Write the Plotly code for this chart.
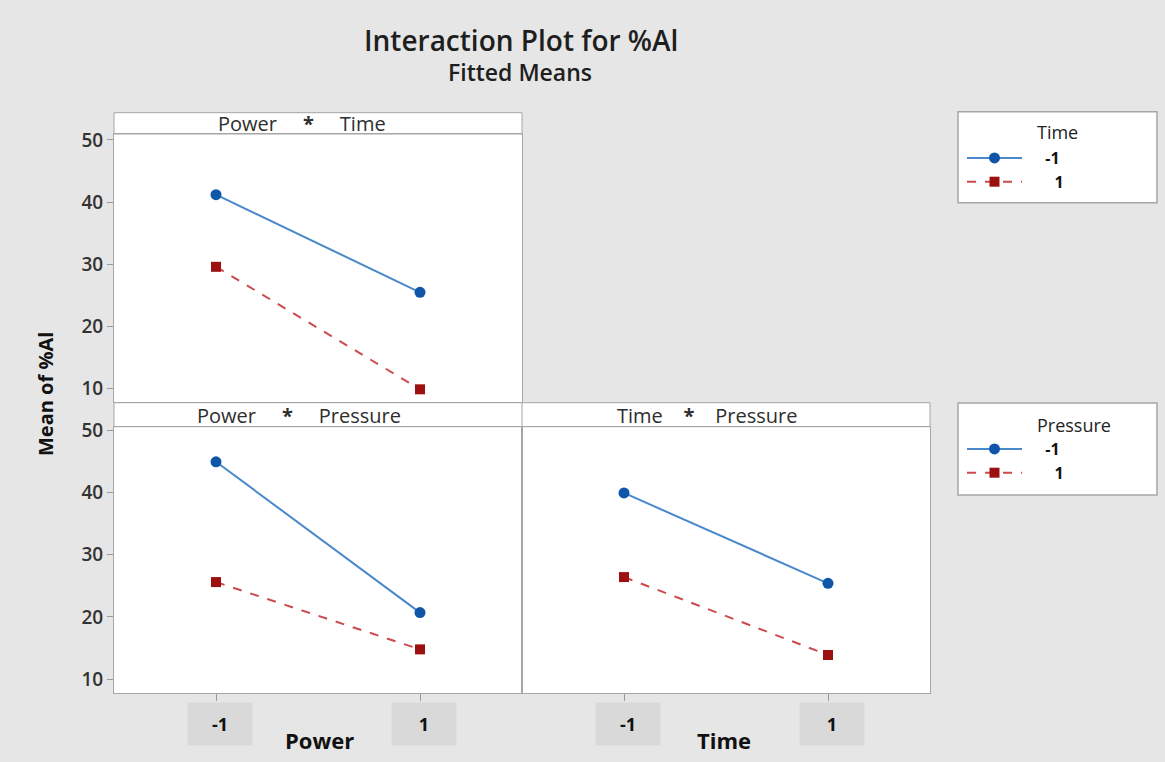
import plotly.graph_objects as go

# ---------------- data ----------------
levels = [-1, 1]
tick_labels = ["-1", "1"]
y_ticks = [10, 20, 30, 40, 50]

# Power * Time (series = Time level)
pt_time_m1 = [41.2, 25.5]
pt_time_p1 = [29.6, 9.9]
# Power * Pressure (series = Pressure level)
pp_press_m1 = [44.9, 20.7]
pp_press_p1 = [25.6, 14.8]
# Time * Pressure (series = Pressure level)
tp_press_m1 = [39.9, 25.4]
tp_press_p1 = [26.4, 13.9]

series_names = ["-1", "1"]

# ---------------- layout helpers ----------------
W, H = 1165, 762
FONT = "Open Sans"

def xd(a, b):
    return [a / W, b / W]

def yd(top, bottom):
    return [(H - bottom) / H, (H - top) / H]

def py(y):
    return (H - y) / H

def px(x):
    return x / W

BLUE_LINE = "#4a88cc"
BLUE_MARK = "#0f56a8"
RED_LINE = "#cc4a4e"
RED_MARK = "#9c1010"

# right-aligned legend labels (figure-space padding)
legend_labels = ["\u2007\u2007" + series_names[0], "\u2007\u2007\u2007" + series_names[1]]

fig = go.Figure()

def add_pair(xa, ya, s1, s2, legend, show):
    fig.add_trace(go.Scatter(
        x=levels, y=s1, xaxis=xa, yaxis=ya, mode="lines+markers",
        name=legend_labels[0], legend=legend, showlegend=show,
        line=dict(color=BLUE_LINE, width=2),
        marker=dict(color=BLUE_MARK, size=11, symbol="circle"),
    ))
    fig.add_trace(go.Scatter(
        x=levels, y=s2, xaxis=xa, yaxis=ya, mode="lines+markers",
        name=legend_labels[1], legend=legend, showlegend=show,
        line=dict(color=RED_LINE, width=2, dash="dash"),
        marker=dict(color=RED_MARK, size=10, symbol="square"),
    ))

add_pair("x", "y", pt_time_m1, pt_time_p1, "legend", True)
add_pair("x2", "y2", pp_press_m1, pp_press_p1, "legend2", True)
add_pair("x3", "y3", tp_press_m1, tp_press_p1, "legend2", False)

axis_common = dict(
    showline=True, linecolor="#a6a6a6", linewidth=1, mirror=True,
    showgrid=False, zeroline=False, range=[-2, 2],
    tickvals=levels, ticktext=tick_labels, showticklabels=False,
)
yaxis_common = dict(
    showline=True, linecolor="#a6a6a6", linewidth=1, mirror=True,
    showgrid=False, zeroline=False, tickvals=y_ticks,
    ticks="outside", ticklen=6, tickcolor="#9a9a9a",
    tickfont=dict(family=FONT, size=19, color="#333333", weight=600),
)

legend_font = dict(family=FONT, size=16, color="#111111", weight="bold")

fig.update_layout(
    width=W, height=H,
    margin=dict(l=0, r=0, t=0, b=0, autoexpand=False),
    paper_bgcolor="#e6e6e6",
    plot_bgcolor="white",
    font=dict(family=FONT, color="#222222"),
    xaxis=dict(domain=xd(114, 522), anchor="y", ticks="", **axis_common),
    yaxis=dict(domain=yd(134, 402), anchor="x", range=[7.86, 50.96], **yaxis_common),
    xaxis2=dict(domain=xd(114, 522), anchor="y2", ticks="outside", ticklen=7,
                tickcolor="#9a9a9a", **axis_common),
    yaxis2=dict(domain=yd(426.7, 693), anchor="x2", range=[7.8, 50.53], **yaxis_common),
    xaxis3=dict(domain=xd(522, 930), anchor="y3", ticks="outside", ticklen=7,
                tickcolor="#9a9a9a", **axis_common),
    yaxis3=dict(domain=yd(426.7, 693), anchor="x3", range=[7.8, 50.53],
                showline=True, linecolor="#a6a6a6", linewidth=1, mirror=True,
                showgrid=False, zeroline=False, showticklabels=False, ticks=""),
    legend=dict(
        x=px(962), y=py(141), xanchor="left", yanchor="top",
        bgcolor="rgba(0,0,0,0)", borderwidth=0, itemwidth=55,
        font=legend_font, tracegroupgap=0,
    ),
    legend2=dict(
        x=px(962), y=py(432), xanchor="left", yanchor="top",
        bgcolor="rgba(0,0,0,0)", borderwidth=0, itemwidth=55,
        font=legend_font, tracegroupgap=0,
    ),
)

shapes = []
# strips
shapes.append(dict(type="rect", xref="paper", yref="paper",
                   x0=px(114), x1=px(522), y0=py(134), y1=py(112.7),
                   fillcolor="white", line=dict(color="#a6a6a6", width=1), layer="below"))
shapes.append(dict(type="rect", xref="paper", yref="paper",
                   x0=px(114), x1=px(930), y0=py(426.7), y1=py(402.7),
                   fillcolor="white", line=dict(color="#a6a6a6", width=1), layer="below"))
shapes.append(dict(type="line", xref="paper", yref="paper",
                   x0=px(522), x1=px(522), y0=py(426.7), y1=py(402.7),
                   line=dict(color="#a6a6a6", width=1)))
# legend boxes
for top, bot in [(111.7, 202.7), (403, 495)]:
    shapes.append(dict(type="rect", xref="paper", yref="paper",
                       x0=px(958), x1=px(1157), y0=py(bot), y1=py(top),
                       fillcolor="white", line=dict(color="#a6a6a6", width=1.5), layer="below"))
fig.update_layout(shapes=shapes)

ann = []

def note(text, x, y, font, xanchor="center", **kw):
    d = dict(text=text, xref="paper", yref="paper", x=px(x), y=py(y),
             xanchor=xanchor, yanchor="middle", showarrow=False, font=font)
    d.update(kw)
    ann.append(d)

# title
note("Interaction Plot for %Al", 521, 40,
     dict(family=FONT, size=28, color="#1e1e1e", weight=600))
note("Fitted Means", 520, 72,
     dict(family=FONT, size=23, color="#1e1e1e", weight=600))
# strip labels
strip_font = dict(family=FONT, size=20, color="#2e2e2e")
sp5 = "&nbsp;" * 5
sp4 = "&nbsp;" * 4
note("Power" + sp5 + "<b>*</b>" + sp5 + "Time", 302, 124, strip_font)
note("Power" + sp5 + "<b>*</b>" + sp5 + "Pressure", 299, 415, strip_font)
note("Time" + sp4 + "<b>*</b>" + sp4 + "Pressure", 707, 415, strip_font)
# y axis title
note("Mean of %Al", 45, 394, dict(family=FONT, size=20, color="#111111", weight="bold"),
     textangle=-90)
# x axis titles
note("Power", 319, 740, dict(family=FONT, size=22, color="#111111", weight="bold"))
note("Time", 724, 740, dict(family=FONT, size=22, color="#111111", weight="bold"))
# legend titles
note("Time", 1035, 132, dict(family=FONT, size=18, color="#222222"), xanchor="left")
note("Pressure", 1035, 425, dict(family=FONT, size=18, color="#222222"), xanchor="left")

# tick label boxes (positioned by the x axes)
for xa in ["x2", "x3"]:
    for v, t in zip(levels, tick_labels):
        ann.append(dict(text=t, xref=xa, yref="paper", x=v, y=py(724),
                        xanchor="center", yanchor="middle",
                        showarrow=False, width=62, height=40, bgcolor="#d9d9d9",
                        xshift=4,
                        font=dict(family=FONT, size=18, color="#111111", weight="bold")))
fig.update_layout(annotations=ann)

fig.write_html("out.html", config={"displayModeBar": False},
               post_script="document.body.style.margin='0px';")
